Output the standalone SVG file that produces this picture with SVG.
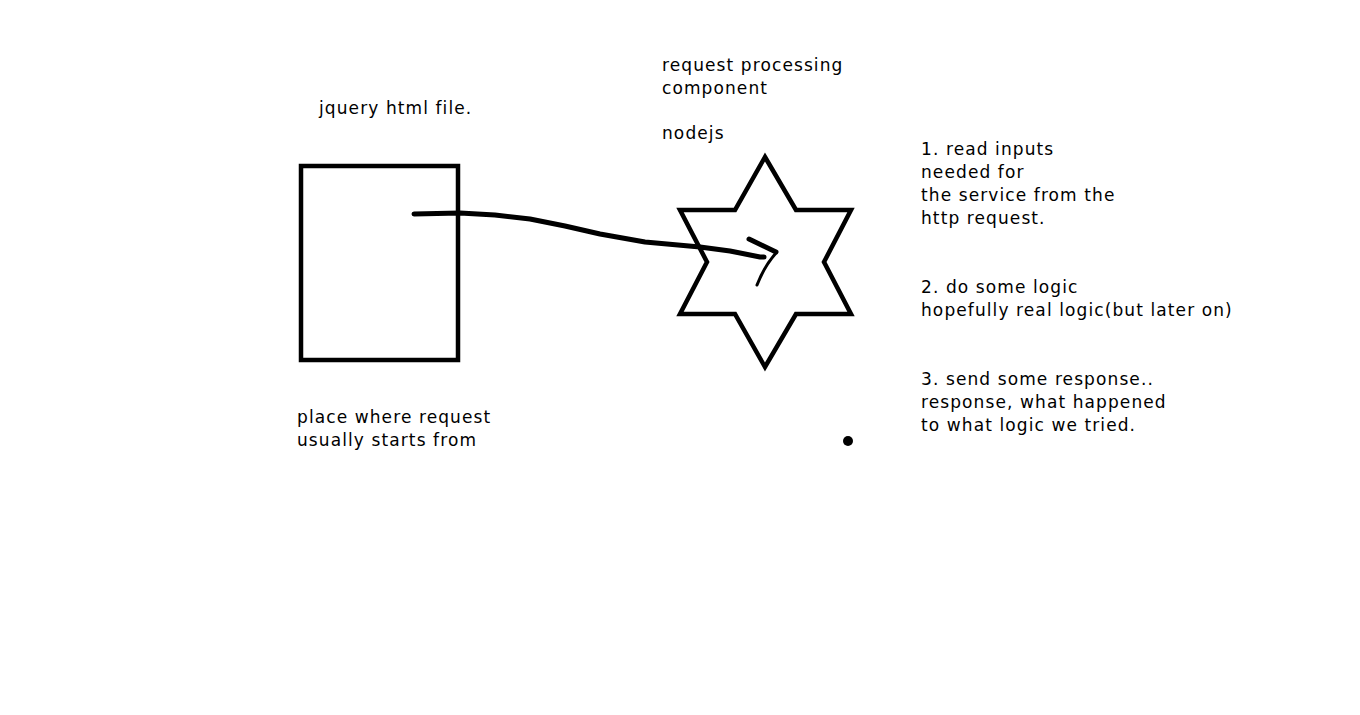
<svg xmlns="http://www.w3.org/2000/svg" width="1360" height="715" viewBox="0 0 1360 715">
<style>
text{font-family:"DejaVu Sans","Liberation Sans",sans-serif;font-size:17px;letter-spacing:1.1px;fill:#000}
.shape{fill:none;stroke:#000;stroke-width:4.5;stroke-linejoin:miter}
.pen{fill:none;stroke:#000;stroke-linecap:round;stroke-linejoin:round}
</style>
<rect width="1360" height="715" fill="#fff"/>
<g id="html-file">
<rect class="shape" x="301" y="166" width="157" height="194"/>
<text x="319" y="114">jquery html file.</text>
<text x="297" y="423">place where request</text>
<text x="297" y="446">usually starts from</text>
</g>
<g id="nodejs">
<polygon class="shape" points="765,157 796,210 851,210 824,262 851,314 796,314 765,367 735,314 680,314 707,262 680,210 735,210"/>
<text x="662" y="71">request processing</text>
<text x="662" y="94">component</text>
<text x="662" y="139">nodejs</text>
</g>
<g id="steps">
<text x="921" y="155">1. read inputs</text>
<text x="921" y="178">needed for</text>
<text x="921" y="201">the service from the</text>
<text x="921" y="224">http request.</text>
<text x="921" y="293">2. do some logic</text>
<text x="921" y="316">hopefully real logic(but later on)</text>
<text x="921" y="385">3. send some response..</text>
<text x="921" y="408">response, what happened</text>
<text x="921" y="431">to what logic we tried.</text>
</g>
<g id="dot">
<circle cx="848" cy="441" r="5" fill="#000"/>
</g>
<g id="connectors">
<path class="pen" stroke-width="5" d="M414,214 L460,213 L495,215 L530,219 L565,226 L600,234 L645,242 L700,247 L730,251 L760,257 L764,257"/>
<path class="pen" stroke-width="5" d="M749,239 L776,252"/>
<path class="pen" stroke-width="3" d="M776,253 C768,262 762,272 757,285"/>
</g>
</svg>
